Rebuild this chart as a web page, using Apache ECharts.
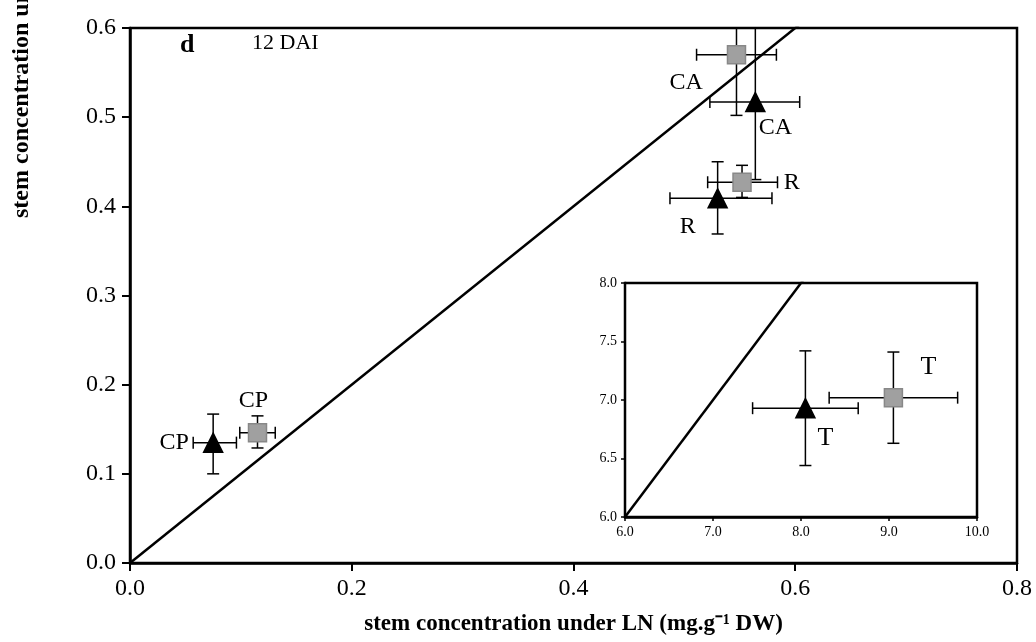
<!DOCTYPE html>
<html><head><meta charset="utf-8">
<script src="https://cdn.jsdelivr.net/npm/echarts@6/dist/echarts.min.js"></script>
<style>html,body{margin:0;background:#fff}#c{width:1036px;height:642px}</style>
</head><body><div id="c"></div>
<script>
// [x, y, xlo, xhi, ylo, yhi, label, labelPos]
const triangles = [
  [0.075, 0.135, 0.057, 0.096, 0.100, 0.167, 'CP', 'left'],
  [0.564, 0.517, 0.523, 0.604, 0.430, 0.640, 'CA', 'bottomRight'],
  [0.530, 0.409, 0.487, 0.579, 0.369, 0.450, 'R', 'bottomLeft']
];
const squares = [
  [0.115, 0.146, 0.099, 0.131, 0.129, 0.165, 'CP', 'top'],
  [0.547, 0.570, 0.511, 0.583, 0.502, 0.640, 'CA', 'left'],
  [0.552, 0.427, 0.521, 0.584, 0.410, 0.446, 'R', 'right']
];
const insetTriangles = [[8.05, 6.93, 7.45, 8.65, 6.44, 7.42, 'T', 'insetBR']];
const insetSquares = [[9.05, 7.02, 8.32, 9.78, 6.63, 7.41, 'T', 'insetTR']];
const oneToOne = [[0, 0], [0.8, 0.8]];
const insetOneToOne = [[6, 6], [10, 10]];

const F = 'Liberation Serif';
function errSeries(data, xi, yi, cap) {
  return {
    type: 'custom', xAxisIndex: xi, yAxisIndex: yi, z: 3, clip: true,
    data: data.map(d => d.slice(0, 6)),
    renderItem(params, api) {
      const x = api.value(0), y = api.value(1);
      const a = api.coord([api.value(2), y]), b = api.coord([api.value(3), y]);
      const c = api.coord([x, api.value(4)]), d = api.coord([x, api.value(5)]);
      const st = {stroke: '#000', lineWidth: 1.5};
      const L = (x1, y1, x2, y2) => ({type: 'line', shape: {x1, y1, x2, y2}, style: st});
      return {type: 'group', children: [
        L(a[0], a[1], b[0], b[1]), L(c[0], c[1], d[0], d[1]),
        L(a[0], a[1] - cap, a[0], a[1] + cap), L(b[0], b[1] - cap, b[0], b[1] + cap),
        L(c[0] - cap, c[1], c[0] + cap, c[1]), L(d[0] - cap, d[1], d[0] + cap, d[1])
      ]};
    }
  };
}
const offs = {left: [-8, 0], top: [-4, -2], right: [24, 0], bottomRight: [20, 26], bottomLeft: [-30, 28], insetBR: [20, 30], insetTR: [35, -30]};
const dist = {left: 6, right: 8, top: 8};
function scat(data, sym, color, border, xi, yi, size, fs) {
  return {
    type: 'scatter', xAxisIndex: xi, yAxisIndex: yi, z: 5, symbol: sym, symbolSize: size,
    itemStyle: {color, borderColor: border, borderWidth: 1.5, opacity: 1},
    data: data.map(d => ({
      value: [d[0], d[1]],
      label: {show: true, formatter: d[6], fontFamily: F, fontSize: fs, color: '#000',
        position: dist[d[7]] ? d[7] : 'inside',
        offset: d[6] === 'CA' && d[7] === 'left' ? [-18, 28] : (offs[d[7]] || [0, 0]), distance: dist[d[7]] || 5}
    }))
  };
}
const axisCommon = {
  axisLine: {show: true, lineStyle: {color: '#000', width: 2.5}},
  axisTick: {show: true, inside: false, length: 8, lineStyle: {color: '#000', width: 2}},
  splitLine: {show: false}
};
const insetTick = {axisTick: {show: true, length: 4, lineStyle: {color: '#000', width: 1.5}}};
const chart = echarts.init(document.getElementById('c'));
chart.setOption({
  animation: false,
  grid: [
    {left: 130, right: 19, top: 28, bottom: 79, show: true, borderColor: '#000', borderWidth: 2.5, backgroundColor: '#fff'},
    {left: 625, right: 59, top: 283, bottom: 125, show: true, borderColor: '#000', borderWidth: 2.5, backgroundColor: '#fff', z: 4}
  ],
  xAxis: [
    Object.assign({type: 'value', gridIndex: 0, min: 0, max: 0.8, interval: 0.2,
      axisLabel: {fontFamily: F, fontSize: 24, color: '#000', margin: 14, formatter: v => v.toFixed(1)},
      name: 'stem concentration under LN (mg.g⁻¹ DW)', nameLocation: 'middle', nameGap: 50,
      nameTextStyle: {fontFamily: F, fontSize: 23, fontWeight: 'bold', color: '#000'}}, axisCommon),
    Object.assign({type: 'value', gridIndex: 1, min: 6, max: 10, interval: 1,
      axisLabel: {fontFamily: F, fontSize: 14, color: '#000', margin: 8, formatter: v => v.toFixed(1)}}, axisCommon, insetTick)
  ],
  yAxis: [
    Object.assign({type: 'value', gridIndex: 0, min: 0, max: 0.6, interval: 0.1,
      axisLabel: {fontFamily: F, fontSize: 24, color: '#000', margin: 14, formatter: v => v.toFixed(1)}}, axisCommon),
    Object.assign({type: 'value', gridIndex: 1, min: 6, max: 8, interval: 0.5,
      axisLabel: {fontFamily: F, fontSize: 14, color: '#000', margin: 8, formatter: v => v.toFixed(1)}}, axisCommon, insetTick)
  ],
  graphic: [
    {type: 'text', x: 22, y: 218, rotation: Math.PI / 2, style: {text: 'stem concentration under HN (mg.g⁻¹ DW)', fontFamily: F, fontSize: 24, fontWeight: 'bold', fill: '#000', textAlign: 'left', textVerticalAlign: 'middle'}},
    {type: 'text', x: 180, y: 32, style: {text: 'd', fontFamily: F, fontSize: 26, fontWeight: 'bold', fill: '#000'}},
    {type: 'text', x: 252, y: 32, style: {text: '12 DAI', fontFamily: F, fontSize: 22, fill: '#000'}}
  ],
  series: [
    {type: 'line', xAxisIndex: 0, yAxisIndex: 0, data: oneToOne, symbol: 'none', clip: true, lineStyle: {color: '#000', width: 2.5}, z: 2},
    errSeries(triangles, 0, 0, 6), errSeries(squares, 0, 0, 6),
    scat(triangles, 'triangle', '#000', '#000', 0, 0, 19, 24),
    scat(squares, 'rect', '#a0a0a0', '#888', 0, 0, 18, 24),
    {type: 'line', xAxisIndex: 1, yAxisIndex: 1, data: insetOneToOne, symbol: 'none', clip: true, lineStyle: {color: '#000', width: 2.5}, z: 6},
    Object.assign(errSeries(insetTriangles, 1, 1, 6), {z: 6}), Object.assign(errSeries(insetSquares, 1, 1, 6), {z: 6}),
    Object.assign(scat(insetTriangles, 'triangle', '#000', '#000', 1, 1, 19, 26), {z: 7}),
    Object.assign(scat(insetSquares, 'rect', '#a0a0a0', '#888', 1, 1, 18, 26), {z: 7})
  ]
});
</script></body></html>
